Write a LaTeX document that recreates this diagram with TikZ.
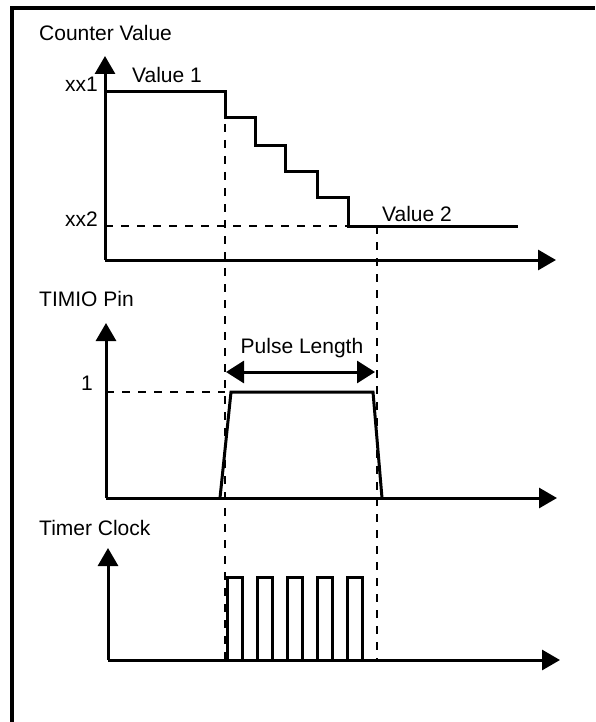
\documentclass[tikz,border=0pt]{standalone}
\usepackage{fontspec}
\setmainfont{Liberation Sans}
\usetikzlibrary{arrows.meta,positioning}

\begin{document}
\begin{tikzpicture}[x=1pt, y=-1pt, every node/.style={font=\fontsize{21}{24}\selectfont, inner sep=0pt},
  axis/.style={line width=3pt, -{Triangle[length=18pt,width=20pt]}},
  signal/.style={line width=3pt},
  guide/.style={line width=2.6pt, dash pattern=on 8pt off 8pt}]
\useasboundingbox (0,0) rectangle (595,722);
\draw[line width=3.2pt] (12,722) -- (12,8) -- (595,8);
% counter value
\coordinate (o1) at (105,260);
\draw[axis] (o1) -- (105,56);
\draw[axis] (o1) -- (556,260);
\node[anchor=base west] (cv) at (39,41) {Counter Value};
\node[anchor=base east] (xx1) at (98,92) {xx1};
\node[anchor=base east] (xx2) at (98,226) {xx2};
\node[anchor=base west] (val1) at (132,83) {Value 1};
\node[anchor=base west] (val2) at (382,221) {Value 2};
\coordinate (s0) at (225,92);
\coordinate (s5) at (348,226);
\draw[signal] (105,92) -- (s0) |- (255,118) |- (285,146) |- (317,172) |- (348,197) -- (s5) -- (518,226);
\draw[guide] (105,226) -- (s5);
% timio pin
\coordinate (o2) at (106,498);
\draw[axis] (o2) -- (106,323);
\draw[axis] (o2) -- (557,498);
\node[anchor=base west] (pin) at (39,306) {TIMIO Pin};
\node[anchor=base east] (one) at (93,390) {1};
\draw[signal] (220,498) -- (231,392) -- (373,392) -- (382,498);
\draw[guide] (106,392) -- (225,392);
\coordinate (pl0) at (226,372);
\coordinate (pl1) at (375,372);
\draw[line width=3pt, {Triangle[length=18pt,width=22pt]}-{Triangle[length=18pt,width=22pt]}] (pl0) -- (pl1);
\node[anchor=base] (plen) at (302,353) {Pulse Length};
% timer clock
\coordinate (o3) at (108,660);
\draw[axis] (o3) -- (108,548);
\draw[axis] (o3) -- (560,660);
\node[anchor=base west] (clk) at (39,535) {Timer Clock};
\draw[signal] (210,660) -- (227,660);
\foreach \i in {0,...,4} {\draw[signal] (227+30*\i,660) -- (227+30*\i,577) -- (242+30*\i,577) -- (242+30*\i,660) -- (257+30*\i,660);}
% guides
\draw[guide] (s0) -- (225,660);
\draw[guide] (377,226) -- (377,660);
\end{tikzpicture}
\end{document}
